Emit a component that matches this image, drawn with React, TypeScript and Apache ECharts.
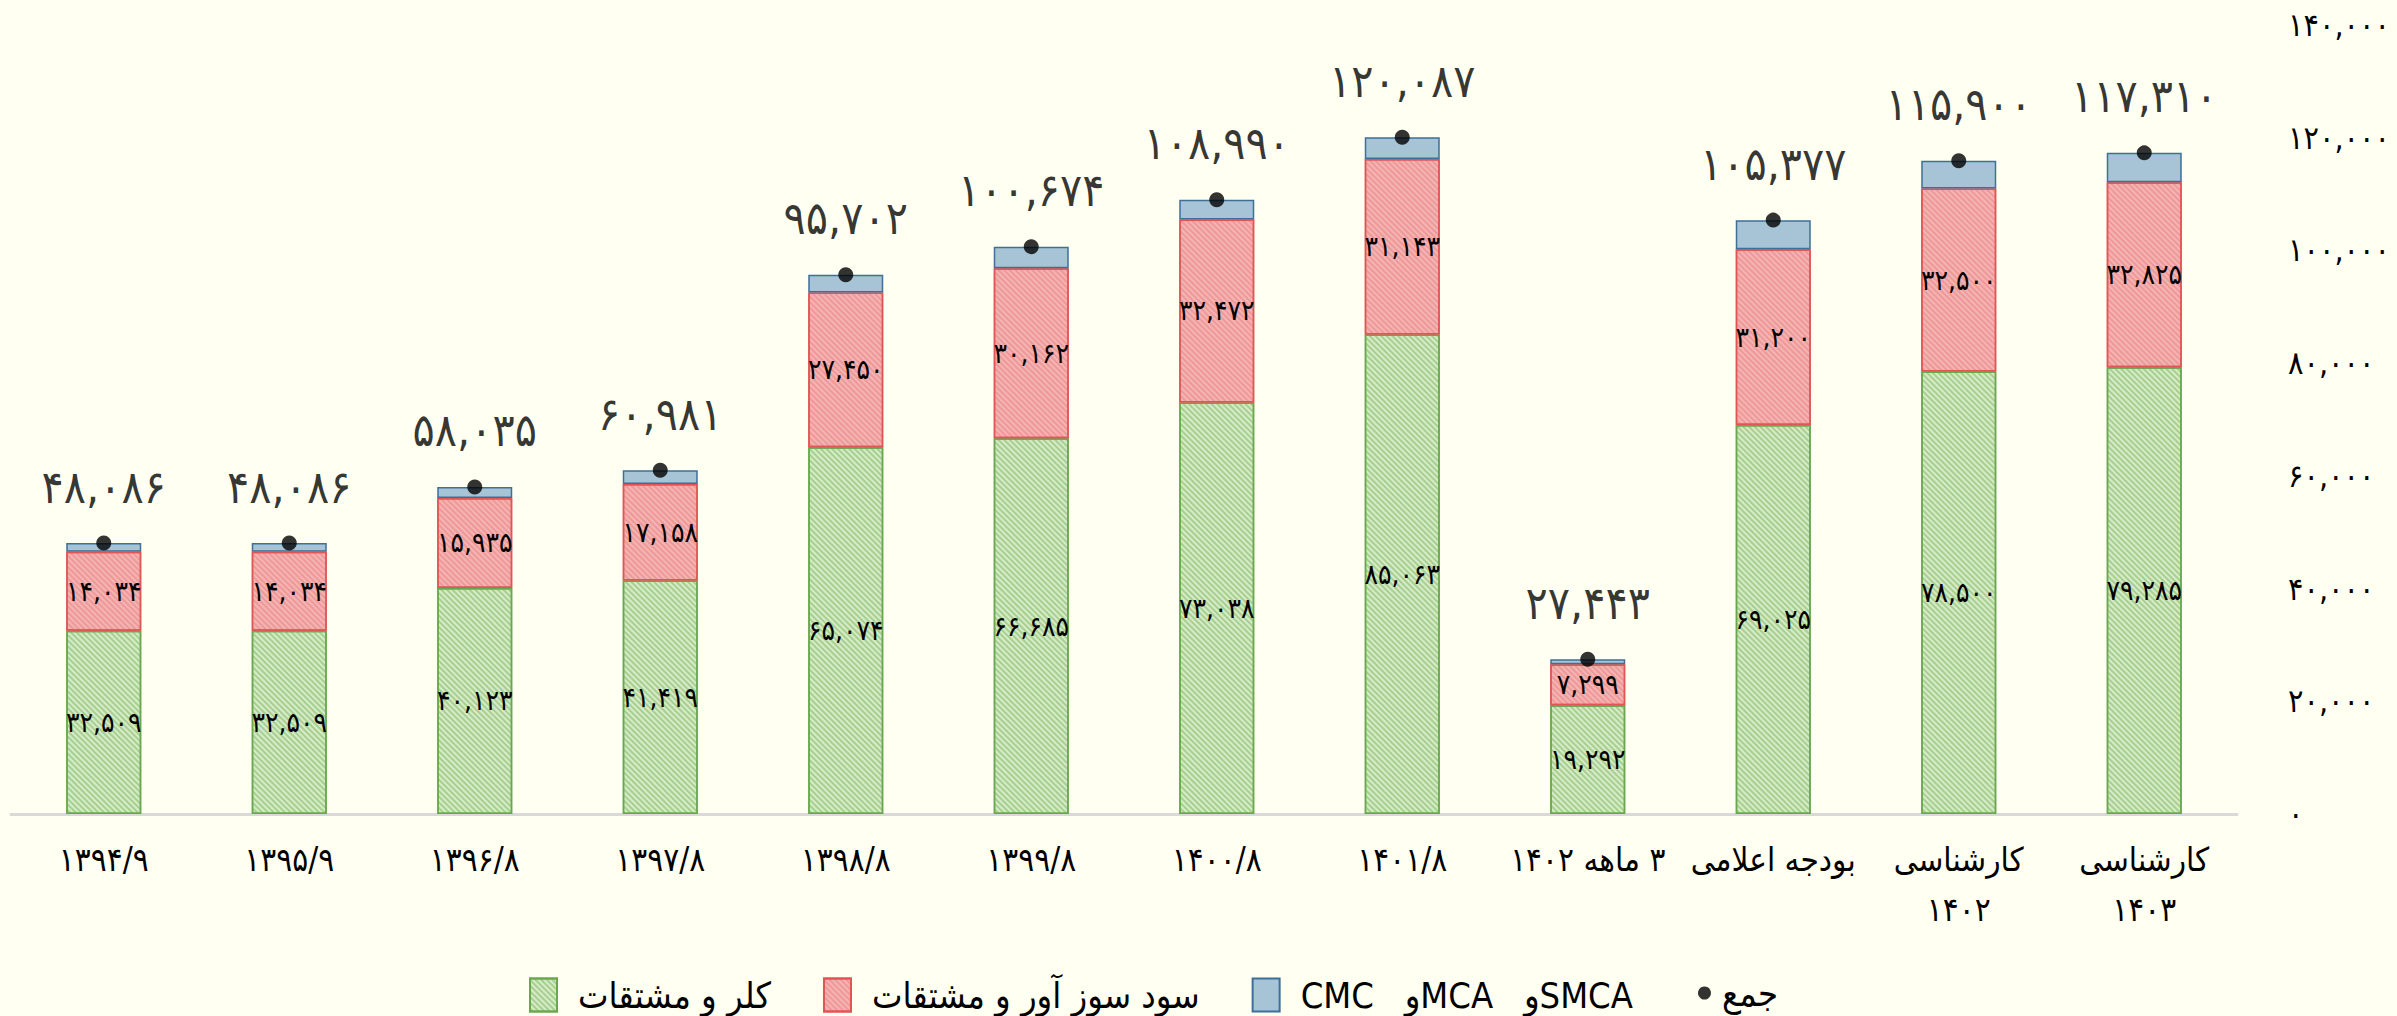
import React, { useEffect, useRef } from "react";
import * as echarts from "echarts";

const categories = [
  "۱۳۹۴/۹",
  "۱۳۹۵/۹",
  "۱۳۹۶/۸",
  "۱۳۹۷/۸",
  "۱۳۹۸/۸",
  "۱۳۹۹/۸",
  "۱۴۰۰/۸",
  "۱۴۰۱/۸",
  "\u200F۳ ماهه ۱۴۰۲",
  "بودجه اعلامی",
  "کارشناسی\n۱۴۰۲",
  "کارشناسی\n۱۴۰۳",
];

const chlorValues = [32509, 32509, 40123, 41419, 65074, 66685, 73038, 85063, 19292, 69025, 78500, 79285];
const causticValues = [14034, 14034, 15935, 17158, 27450, 30162, 32472, 31143, 7299, 31200, 32500, 32825];
const cmcValues = [1543, 1543, 1977, 2404, 3178, 3827, 3480, 3881, 852, 5152, 4900, 5200];
const totalValues = [48086, 48086, 58035, 60981, 95702, 100674, 108990, 120087, 27443, 105377, 115900, 117310];

const yTicks = { min: 0, max: 140000, interval: 20000 };

const nameChlor = "کلر و مشتقات";
const nameCaustic = "سود سوز آور و مشتقات";
const nameCmc = "CMC   وMCA   وSMCA";
const nameTotal = "جمع";

const FONT = "'DejaVu Sans Condensed', 'DejaVu Sans', sans-serif";
const faDigits = "۰۱۲۳۴۵۶۷۸۹";
const toFa = (n: number) =>
  Math.round(n)
    .toLocaleString("en-US")
    .replace(/\d/g, (d) => faDigits[+d]);

const hatch = (color: string) => ({
  symbol: "rect",
  symbolSize: 1,
  dashArrayX: [1, 0],
  dashArrayY: [2, 2],
  rotation: Math.PI / 4,
  color,
});

export default function App() {
  const ref = useRef<HTMLDivElement>(null);
  useEffect(() => {
    if (!ref.current) return;
    const chart = echarts.init(ref.current, null, { renderer: "svg" });
    const innerLabel = {
      show: true,
      position: "inside",
      fontFamily: FONT,
      fontSize: 28,
      color: "#000",
      formatter: (p: any) => toFa(p.value),
    };
    chart.setOption({
      animation: false,
      backgroundColor: "#fffff2",
      textStyle: { fontFamily: FONT },
      grid: { left: 11, right: 160, top: 25, bottom: 202, containLabel: false },
      legend: [
        {
          data: [nameChlor, nameCaustic, nameCmc],
          left: 524,
          top: 972,
          itemWidth: 27,
          itemHeight: 33,
          itemGap: 52,
          icon: "rect",
          textStyle: {
            fontFamily: FONT,
            fontSize: 36,
            color: "#000",
            padding: [0, 0, 0, 16],
          },
        },
        {
          data: [{ name: nameTotal, icon: "circle" }],
          left: 1693,
          top: 970,
          itemWidth: 13,
          itemHeight: 13,
          itemGap: 10,
          textStyle: { fontFamily: FONT, fontSize: 36, color: "#000", padding: [0, 0, 0, 6] },
        },
      ],
      xAxis: {
        type: "category",
        data: categories,
        axisLine: { lineStyle: { color: "#d9d9d9", width: 3 } },
        axisTick: { show: false },
        axisLabel: {
          interval: 0,
          fontFamily: FONT,
          fontSize: 33,
          lineHeight: 50,
          margin: 20,
          color: "#000",
        },
      },
      yAxis: {
        type: "value",
        position: "right",
        min: yTicks.min,
        max: yTicks.max,
        interval: yTicks.interval,
        splitLine: { show: false },
        axisLine: { show: false },
        axisTick: { show: false },
        axisLabel: {
          align: "left",
          margin: 51,
          fontFamily: FONT,
          fontSize: 32,
          color: "#000",
          formatter: (v: number) => toFa(v),
        },
      },
      series: [
        {
          name: nameChlor,
          type: "bar",
          stack: "s",
          barWidth: 75,
          data: chlorValues,
          itemStyle: {
            color: "#d6ebc7",
            borderColor: "#6aa84f",
            borderWidth: 1.5,
            decal: hatch("rgba(120,180,90,0.5)"),
          },
          label: innerLabel,
        },
        {
          name: nameCaustic,
          type: "bar",
          stack: "s",
          barWidth: 75,
          data: causticValues,
          itemStyle: {
            color: "#f4b4b4",
            borderColor: "#e05555",
            borderWidth: 1.5,
            decal: hatch("rgba(230,110,110,0.4)"),
          },
          label: innerLabel,
        },
        {
          name: nameCmc,
          type: "bar",
          stack: "s",
          barWidth: 75,
          data: cmcValues,
          itemStyle: {
            color: "#a7c4d6",
            borderColor: "#3d6f99",
            borderWidth: 1.5,
          },
        },
        {
          name: nameTotal,
          type: "scatter",
          data: totalValues,
          symbol: "circle",
          symbolSize: 15,
          itemStyle: { color: "#000" },
          z: 5,
          label: {
            show: true,
            position: "top",
            distance: 26,
            fontFamily: FONT,
            fontSize: 46,
            color: "#000",
            formatter: (p: any) => toFa(p.value),
          },
        },
      ],
    });
    return () => chart.dispose();
  }, []);
  return (
    <div
      ref={ref}
      style={{ position: "fixed", left: 0, top: 0, width: 2397, height: 1016 }}
    />
  );
}
